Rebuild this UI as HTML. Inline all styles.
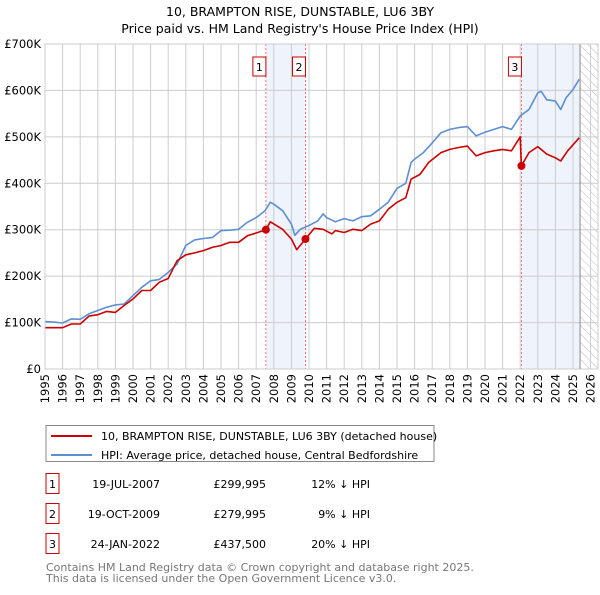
<!DOCTYPE html>
<html><head><meta charset="utf-8"><style>
body{margin:0;background:#fff;font-family:"Liberation Sans","DejaVu Sans",sans-serif;}
svg text{font-family:"DejaVu Sans","Liberation Sans",sans-serif;}
</style></head><body>
<svg id="c" width="600" height="590" viewBox="0 0 600 590" xmlns="http://www.w3.org/2000/svg">
<defs><pattern id="hatch" width="6" height="6" patternUnits="userSpaceOnUse" patternTransform="rotate(-45)"><line x1="0" y1="0" x2="0" y2="6" stroke="#bbb" stroke-width="1"/></pattern></defs>
<text x="300" y="16" text-anchor="middle" font-size="12.5">10, BRAMPTON RISE, DUNSTABLE, LU6 3BY</text>
<text x="300" y="33" text-anchor="middle" font-size="12.5">Price paid vs. HM Land Registry's House Price Index (HPI)</text>
<g id="plot"></g>
<g>
<rect x="46" y="425.5" width="388" height="36" fill="#fff" stroke="#888"/>
<line x1="51" y1="436" x2="92" y2="436" stroke="#cc0000" stroke-width="2"/>
<text x="101" y="440" font-size="11">10, BRAMPTON RISE, DUNSTABLE, LU6 3BY (detached house)</text>
<line x1="51" y1="455" x2="92" y2="455" stroke="#5b8fd4" stroke-width="2"/>
<text x="101" y="459" font-size="11">HPI: Average price, detached house, Central Bedfordshire</text>
</g>
<g id="table" font-size="11"></g>
<text x="46" y="571" font-size="11" fill="#777">Contains HM Land Registry data © Crown copyright and database right 2025.</text>
<text x="46" y="582" font-size="11" fill="#777">This data is licensed under the Open Government Licence v3.0.</text>
</svg>
<script>
const hpiYears=[1995,1995.5,1996,1996.5,1997,1997.5,1998,1998.5,1999,1999.5,2000,2000.5,2001,2001.5,2002,2002.5,2003,2003.5,2004,2004.5,2005,2005.5,2006,2006.5,2007,2007.5,2007.8,2008,2008.5,2009,2009.2,2009.5,2010,2010.5,2010.8,2011,2011.5,2012,2012.5,2013,2013.5,2014,2014.5,2015,2015.5,2015.8,2016,2016.5,2017,2017.5,2018,2018.5,2019,2019.5,2020,2020.5,2021,2021.5,2022,2022.5,2023,2023.2,2023.5,2024,2024.3,2024.6,2025,2025.35];
const hpiValues=[102,101,99,108,107,119,126,133,138,140,158,176,190,193,208,226,266,278,281,283,298,299,301,316,326,341,359,355,341,312,288,301,309,319,334,326,317,324,319,328,330,344,359,389,400,445,452,466,487,509,516,520,522,502,510,516,522,516,545,559,595,598,580,577,559,584,602,624];
const priceYears=[1995,1996,1996.5,1997,1997.5,1998,1998.5,1999,1999.5,2000,2000.5,2001,2001.5,2002,2002.5,2003,2003.5,2004,2004.5,2005,2005.5,2006,2006.5,2007,2007.55,2007.8,2008.5,2009,2009.3,2009.8,2010.3,2010.8,2011.3,2011.5,2012,2012.5,2013,2013.5,2014,2014.5,2015,2015.5,2015.8,2016.3,2016.8,2017.5,2018,2018.5,2019,2019.5,2020,2020.5,2021,2021.5,2022,2022.07,2022.5,2023,2023.5,2024,2024.3,2024.7,2025.35];
const priceValues=[89,89,97,97,114,117,124,122,137,151,169,169,187,195,233,246,250,255,262,266,273,273,287,293,300,317,301,280,257,280,303,301,291,298,294,301,298,312,319,344,359,369,409,419,445,466,473,477,480,459,466,470,473,470,500,437.5,466,479,463,455,448,470,498];
const saleYears=[2007.55,2009.8,2022.07];
const saleValues=[299.995,279.995,437.5];
const saleLabels=["1","2","3"];
const saleDates=["19-JUL-2007","19-OCT-2009","24-JAN-2022"];
const salePrices=["£299,995","£279,995","£437,500"];
const salePcts=["12% ↓ HPI","9% ↓ HPI","20% ↓ HPI"];
const yTicks=[0,100,200,300,400,500,600,700];
const yTickLabels=["£0","£100K","£200K","£300K","£400K","£500K","£600K","£700K"];
const xTicks=[1995,1996,1997,1998,1999,2000,2001,2002,2003,2004,2005,2006,2007,2008,2009,2010,2011,2012,2013,2014,2015,2016,2017,2018,2019,2020,2021,2022,2023,2024,2025,2026];
const dataEnd=2025.4;

const NS="http://www.w3.org/2000/svg";
const L=45,R=598,T=44,B=369;
const x=y=>L+(y-1995)*17.6;
const yv=v=>B-v*(B-T)/700;
const plot=document.getElementById('plot');
function mk(tag,attrs,parent){const e=document.createElementNS(NS,tag);for(const k in attrs)e.setAttribute(k,attrs[k]);(parent||plot).appendChild(e);return e;}

let e;
e=mk('rect',{x:x(saleYears[0]),y:T,width:x(saleYears[1])-x(saleYears[0]),height:B-T,fill:'#eef3fc'});


e=mk('rect',{x:x(saleYears[2]),y:T,width:x(dataEnd)-x(saleYears[2]),height:B-T,fill:'#eef3fc'});


e=mk('rect',{x:x(dataEnd),y:T,width:R-x(dataEnd),height:B-T,fill:'url(#hatch)'});



yTicks.forEach((t,i)=>{
  e=mk('line',{x1:L,x2:R,y1:yv(t),y2:yv(t),stroke:'#ccc','stroke-width':1});
  
  
  e=mk('text',{x:L-4,y:yv(t)+4,'text-anchor':'end','font-size':'11.5'});
  e.textContent=yTickLabels[i];
  
  
});
xTicks.forEach(t=>{
  e=mk('line',{x1:x(t),x2:x(t),y1:T,y2:B,stroke:'#ccc','stroke-width':1});
  
  
  e=mk('text',{x:0,y:0,'text-anchor':'end','font-size':'11.5',transform:`translate(${x(t)+4},${B+5}) rotate(-90)`});
  e.textContent=t;
  
  
});
e=mk('line',{x1:x(dataEnd),x2:x(dataEnd),y1:T,y2:B,stroke:'#888','stroke-width':1});



saleYears.forEach((s,i)=>{
  e=mk('line',{x1:x(s),x2:x(s),y1:T,y2:B,stroke:'#e55','stroke-width':0.8,'stroke-dasharray':'2,2'});
  
  
});

function path(xs,vs,color,name){
  let d=xs.map((t,i)=>(i?'L':'M')+x(t).toFixed(1)+','+yv(vs[i]).toFixed(1)).join('');
  e=mk('path',{d:d,fill:'none',stroke:color,'stroke-width':1.6,'stroke-linejoin':'round'});
  
  
}
path(hpiYears,hpiValues,'#5b8fd4','hpi-line');
path(priceYears,priceValues,'#cc0000','price-line');

saleYears.forEach((s,i)=>{
  e=mk('circle',{cx:x(s),cy:yv(saleValues[i]),r:4,fill:'#cc0000'});
  
  
  e=mk('rect',{x:x(s)-13,y:57,width:13,height:19,fill:'#fff',stroke:'#cc0000'});
  
  
  e=mk('text',{x:x(s)-6.5,y:71,'text-anchor':'middle','font-size':'11'});
  e.textContent=saleLabels[i];
  
  
});
e=mk('rect',{x:L,y:T,width:R-L,height:B-T,fill:'none',stroke:'#ccc'});



const tb=document.getElementById('table');
saleYears.forEach((s,i)=>{
  const cy=484+i*30;
  e=mk('rect',{x:46,y:cy-10.5,width:13,height:20,fill:'#fff',stroke:'#cc0000'},tb);
  
  
  e=mk('text',{x:52.5,y:cy+4,'text-anchor':'middle'},tb);
  e.textContent=saleLabels[i];
  
  
  e=mk('text',{x:160,y:cy+4,'text-anchor':'end'},tb);
  e.textContent=saleDates[i];
  
  
  e=mk('text',{x:266,y:cy+4,'text-anchor':'end'},tb);
  e.textContent=salePrices[i];
  
  
  e=mk('text',{x:370,y:cy+4,'text-anchor':'end'},tb);
  e.textContent=salePcts[i];
  
  
});
</script>
</body></html>
